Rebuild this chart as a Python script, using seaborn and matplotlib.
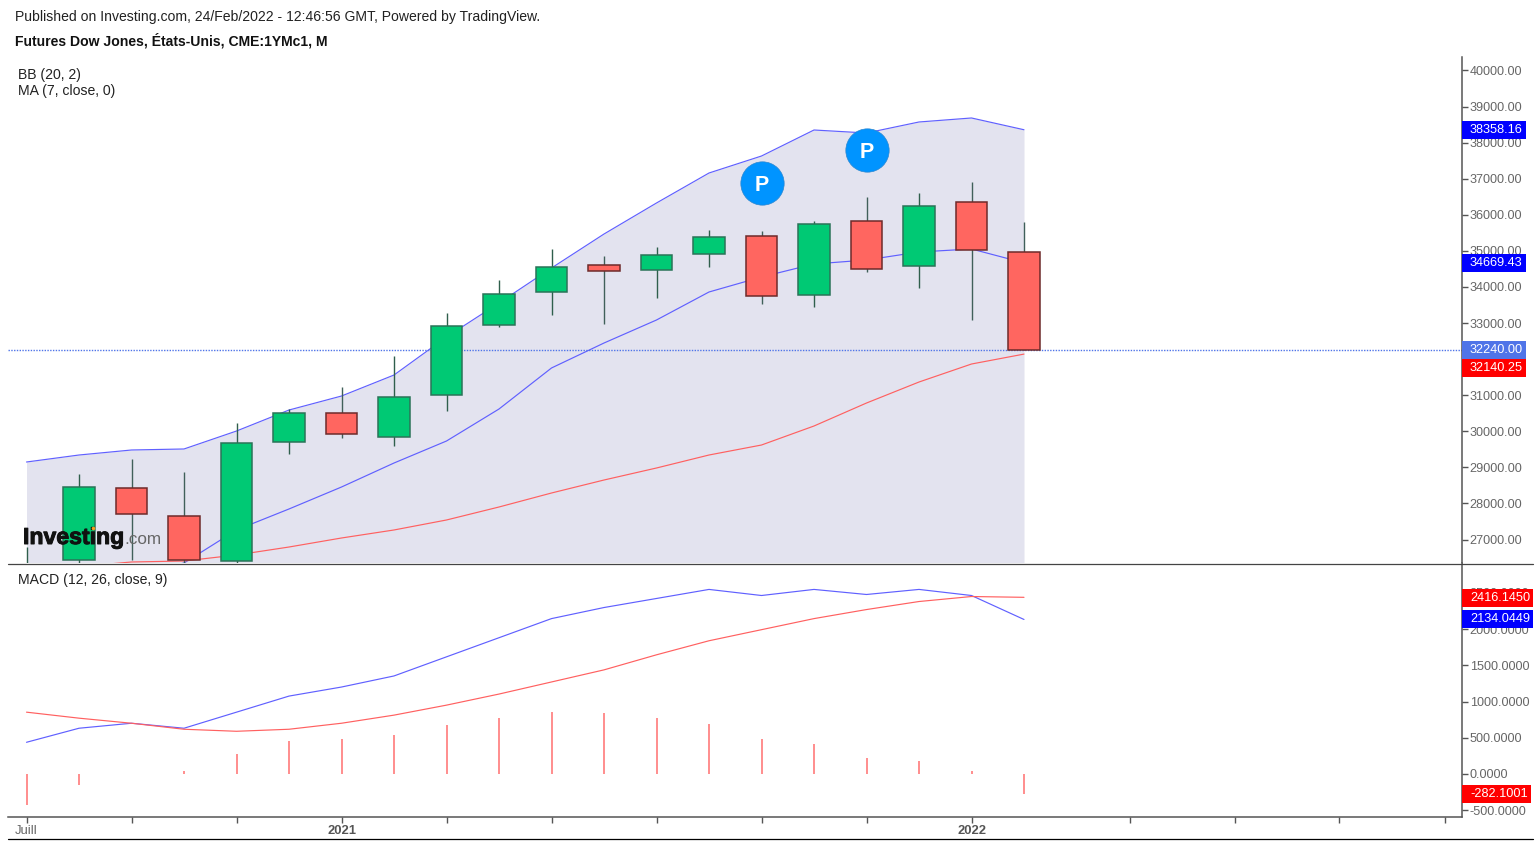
import matplotlib
matplotlib.use("Agg")
import matplotlib.pyplot as plt
from matplotlib.lines import Line2D
from matplotlib import patheffects as pe
import pandas as pd
import seaborn as sns

sns.set_theme(style="white")
plt.rcParams["font.family"] = ["Liberation Sans", "DejaVu Sans"]

months = list(range(20))
opens = [25700, 26433, 28429, 27653, 26405, 29704, 30507, 29842, 31006, 32946, 33861, 34609, 34471, 34914, 35413, 33778, 35815, 34568, 36342, 34970]
closes = [26200, 28456, 27708, 26433, 29676, 30507, 29925, 30951, 32919, 33792, 34554, 34443, 34886, 35385, 33750, 35759, 34498, 36258, 35025, 32240]
highs = [26793, 28817, 29232, 28872, 30230, 30618, 31228, 32087, 33279, 34194, 35053, 34859, 35108, 35579, 35552, 35829, 36494, 36605, 36910, 35801]
lows = [25400, 26300, 26433, 26322, 26350, 29371, 29814, 29593, 30563, 32891, 33223, 32974, 33695, 34554, 33528, 33445, 34415, 33972, 33085, 32240]
bb_upper = [29149, 29343, 29482, 29510, 30008, 30590, 30978, 31560, 32614, 33556, 34526, 35468, 36328, 37159, 37630, 38351, 38268, 38573, 38684, 38358]
bb_mid = [25500, 25700, 26000, 26350, 27265, 27847, 28456, 29121, 29731, 30618, 31755, 32447, 33085, 33861, 34277, 34637, 34748, 34970, 35053, 34669]
bb_lower = [22000, 22100, 22500, 23000, 23500, 24000, 24300, 24600, 24900, 25200, 25400, 25600, 25700, 25800, 25900, 26000, 26000, 26100, 26100, 26000]
ma7 = [26000, 26250, 26378, 26405, 26572, 26793, 27043, 27265, 27542, 27902, 28290, 28650, 28983, 29343, 29620, 30147, 30784, 31366, 31865, 32140]
macd_line = [438, 632, 701, 632, 854, 1076, 1201, 1354, 1618, 1882, 2146, 2299, 2424, 2549, 2465, 2549, 2479, 2549, 2465, 2134]
signal_line = [854, 771, 701, 618, 590, 618, 701, 813, 951, 1104, 1271, 1438, 1646, 1840, 1993, 2146, 2271, 2382, 2451, 2440]
hist = [-430, -150, 0, 35, 280, 450, 490, 535, 670, 770, 855, 840, 770, 690, 480, 410, 215, 175, 35, -282]
price_ticks = [27000, 28000, 29000, 30000, 31000, 32000, 33000, 34000, 35000, 36000, 37000, 38000, 39000, 40000]
hidden_price_labels = [32000]
macd_ticks = [-500, 0, 500, 1000, 1500, 2000, 2500]
x_tick_pos = [0, 2, 4, 6, 8, 10, 12, 14, 16, 18, 21.02, 23.02, 25.0, 27.02]
x_tick_labels = {0: "Juill", 6: "2021", 18: "2022"}
pivots = [(14, 36874), (16, 37810)]

W, H = 1540, 844
UP, DOWN = "#00c974", "#ff6660"
BLUE, RED = "#6060ff", "#ff6060"
GREY = "#555555"

def fx(px): return px / W
def fy(px): return 1 - px / H

fig = plt.figure(figsize=(W / 100, H / 100), dpi=100, facecolor="white")
L, R = 8, 1462
ax = fig.add_axes([fx(L), fy(563), fx(R - L), (563 - 57) / H])
ax2 = fig.add_axes([fx(L), fy(817), fx(R - L), (817 - 563) / H], sharex=ax)

ax.set_xlim((L - 26.5) / 52.5, (R - 26.5) / 52.5)
ax.set_ylim(40000 - (563 - 70.5) * 27.716, 40000 + (70.5 - 57) * 27.716)
ax2.set_ylim(-(817 - 774) * 13.81, (774 - 563) * 13.81)

# Bollinger band
ax.fill_between(months, bb_lower, bb_upper, color="#e3e3ef", lw=0, zorder=1)
df = pd.DataFrame({"m": months, "u": bb_upper, "mid": bb_mid, "lo": bb_lower, "ma": ma7,
                   "macd": macd_line, "sig": signal_line})
sns.lineplot(data=df, x="m", y="u", ax=ax, color=BLUE, lw=0.85, zorder=2)
sns.lineplot(data=df, x="m", y="mid", ax=ax, color=BLUE, lw=0.85, zorder=2)
sns.lineplot(data=df, x="m", y="lo", ax=ax, color=BLUE, lw=0.85, zorder=2)
sns.lineplot(data=df, x="m", y="ma", ax=ax, color=RED, lw=0.85, zorder=2)
ax.axhline(closes[-1], color="#4f74e8", lw=1, ls=(0, (1, 1)), zorder=2)

# Candles
for m, o, c, h, l in zip(months, opens, closes, highs, lows):
    up = c >= o
    ax.vlines(m, l, h, color="#2f5f4c" if up else "#40605a", lw=1, zorder=3)
    ax.bar(m, abs(c - o), bottom=min(o, c), width=0.6, color=UP if up else DOWN,
           edgecolor="#2a7458" if up else "#6e2a2a", lw=1.1, zorder=4)

# Pivot badges
for m, v in pivots:
    ax.plot(m, v, "o", ms=31.2, mfc="#0094ff", mec="#2a86d0", mew=0.5, zorder=5)
    ax.text(m, v, "P", color="white", fontsize=15.5, fontweight="bold", ha="center",
            va="center_baseline", zorder=6)

# MACD
ax2.vlines(months, 0, hist, color="#ff6f6f", lw=1.1)
sns.lineplot(data=df, x="m", y="macd", ax=ax2, color=BLUE, lw=0.85)
sns.lineplot(data=df, x="m", y="sig", ax=ax2, color=RED, lw=0.85)

for a in (ax, ax2):
    a.set_xlabel("")
    a.set_ylabel("")
    a.yaxis.tick_right()
    for s in a.spines.values():
        s.set_visible(False)
    a.spines["right"].set_visible(True)
    a.spines["right"].set_color(GREY)
    a.spines["right"].set_linewidth(1.1)
    a.grid(False)

ax.set_yticks(price_ticks)
ax.set_yticklabels(["" if v in hidden_price_labels else f"{v:.2f}" for v in price_ticks])
ax2.set_yticks(macd_ticks)
ax2.set_yticklabels([f"{v:.4f}" for v in macd_ticks])
for a in (ax, ax2):
    a.tick_params(axis="y", right=True, length=4, width=1, color=GREY, labelcolor="#666666",
                  labelsize=9.1, pad=1.6)
ax.tick_params(axis="x", bottom=False, labelbottom=False)

ax2.spines["bottom"].set_visible(True)
ax2.spines["bottom"].set_color(GREY)
ax2.spines["bottom"].set_linewidth(1.1)
ax2.set_xticks(x_tick_pos)
ax2.set_xticklabels([x_tick_labels.get(p, "") for p in x_tick_pos])
ax2.tick_params(axis="x", bottom=True, length=4, width=1, color=GREY, labelcolor="#666666",
                labelsize=9.4, pad=2)
for lab, p in zip(ax2.get_xticklabels(), x_tick_pos):
    if p in (6, 18):
        lab.set_fontweight("bold")
        lab.set_color("#555555")

# Frame lines
fig.add_artist(Line2D([fx(8), fx(1533)], [fy(563.5)] * 2, color="#444444", lw=0.9))
fig.add_artist(Line2D([fx(8), fx(1533)], [fy(838.5)] * 2, color="black", lw=0.9))

# Titles and legends
fig.text(fx(15), fy(17.5), "Published on Investing.com, 24/Feb/2022 - 12:46:56 GMT, Powered by TradingView.",
         fontsize=10.08, color="#222222", va="center")
fig.text(fx(15), fy(40.3), "Futures Dow Jones, États-Unis, CME:1YMc1, M", fontsize=10.1, fontweight="bold",
         color="#111111", va="center")
fig.text(fx(17.5), fy(74.5), "BB (20, 2)", fontsize=10.1, color="#222222", va="center")
fig.text(fx(17.5), fy(91.5), "MA (7, close, 0)", fontsize=10.1, color="#222222", va="center")
fig.text(fx(17.5), fy(580), "MACD (12, 26, close, 9)", fontsize=10.05, color="#222222", va="center")

# Watermark
fig.text(fx(23), fy(537.5), "Investing", fontsize=16.6, fontweight="bold", color="#111111", va="center", zorder=20,
         path_effects=[pe.withStroke(linewidth=0.7, foreground="#111111")])
fig.text(fx(124.5), fy(540), ".com", fontsize=12.3, color="#666666", va="center", zorder=20)
fig.add_artist(Line2D([fx(92.5)], [fy(527.5)], marker="o", ms=2.6, color="#f0a020", mew=0, zorder=21))

# Value flags on the price axis
def flag(axis, y_val, text, color, x1=1526):
    y_px = axis.transData.transform((0, y_val))[1]
    fy_val = y_px / H
    fig.patches.append(plt.Rectangle((fx(1462), fy_val - 9 / H), fx(x1 - 1462), 18 / H, transform=fig.transFigure,
                                     color=color, lw=0, zorder=30))
    fig.text(fx(1470), fy_val, text, color="white", fontsize=9.2, va="center", zorder=31)

flag(ax, 38358.16, "38358.16", "#0000ff")
flag(ax, 34669.43, "34669.43", "#0000ff")
flag(ax, 32240.00, "32240.00", "#4f74e8")
flag(ax, 32140.25 - 388, "32140.25", "#ff0000")
flag(ax2, 2416.145 + 8, "2416.1450", "#ff0000", 1533)
flag(ax2, 2134.0449, "2134.0449", "#0000ff", 1533)
flag(ax2, -282.1001, "-282.1001", "#ff0000", 1531)

fig.savefig("out.png", dpi=100, facecolor="white")
